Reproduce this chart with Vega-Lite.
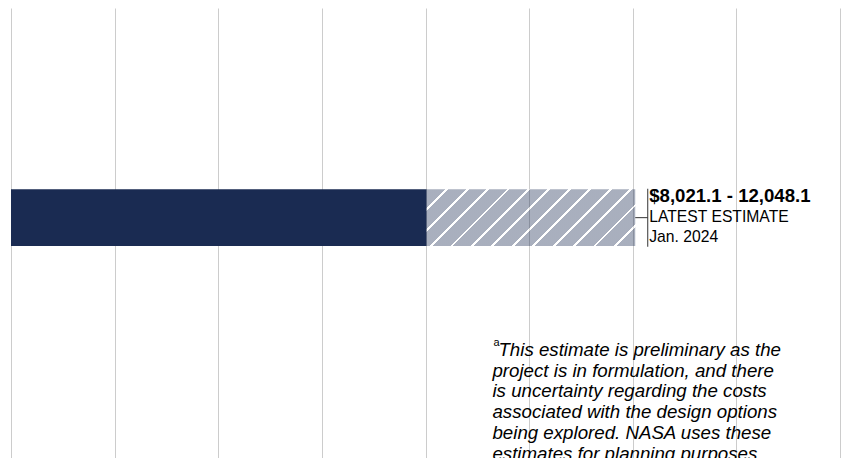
{
  "$schema": "https://vega.github.io/schema/vega-lite/v6.json",
  "width": 829,
  "height": 450,
  "autosize": {"type": "none"},
  "padding": {"left": 11, "top": 8, "right": 2, "bottom": 0},
  "background": "white",
  "config": {"view": {"stroke": null}, "font": "Liberation Sans"},
  "data": {
    "values": [
      {"row": "Latest estimate", "segment": "low", "start": 0, "end": 8021.1},
      {
        "row": "Latest estimate",
        "segment": "range",
        "start": 8021.1,
        "end": 12048.1,
        "label": "$8,021.1 - 12,048.1",
        "kind": "LATEST ESTIMATE",
        "date": "Jan. 2024",
        "sup": "a",
        "note_first": "This estimate is preliminary as the",
        "note_rest": [
          "project is in formulation, and there",
          "is uncertainty regarding the costs",
          "associated with the design options",
          "being explored. NASA uses these",
          "estimates for planning purposes."
        ]
      }
    ]
  },
  "encoding": {
    "y": {
      "field": "row",
      "type": "nominal",
      "axis": null,
      "scale": {"paddingInner": 0.71167, "paddingOuter": 1, "align": 0.461}
    }
  },
  "layer": [
    {
      "transform": [{"filter": "datum.segment === 'low'"}],
      "mark": {"type": "bar", "color": "#1a2b52"},
      "encoding": {
        "x": {
          "field": "start",
          "type": "quantitative",
          "scale": {"domain": [0, 16000], "nice": false, "zero": true},
          "axis": {
            "grid": true,
            "labels": false,
            "ticks": false,
            "domain": false,
            "title": null,
            "values": [0, 2000, 4000, 6000, 8000, 10000, 12000, 14000, 16000],
            "gridColor": "#cccccc",
            "gridWidth": 1
          }
        },
        "x2": {"field": "end"}
      }
    },
    {
      "transform": [{"filter": "datum.segment === 'range'"}],
      "mark": {
        "type": "bar",
        "fillOpacity": 0.375,
        "fill": {
          "gradient": "linear",
          "x1": 0, "y1": 0, "x2": 1.18429, "y2": 0.32182,
          "stops": [
            {"offset": 0, "color": "#1a2b52"},
            {"offset": 0.0716, "color": "#1a2b52"}, {"offset": 0.0716, "color": "#ffffff"}, {"offset": 0.0822, "color": "#ffffff"}, {"offset": 0.0822, "color": "#1a2b52"},
            {"offset": 0.1485, "color": "#1a2b52"}, {"offset": 0.1485, "color": "#ffffff"}, {"offset": 0.1591, "color": "#ffffff"}, {"offset": 0.1591, "color": "#1a2b52"},
            {"offset": 0.2255, "color": "#1a2b52"}, {"offset": 0.2255, "color": "#ffffff"}, {"offset": 0.2361, "color": "#ffffff"}, {"offset": 0.2361, "color": "#1a2b52"},
            {"offset": 0.3024, "color": "#1a2b52"}, {"offset": 0.3024, "color": "#ffffff"}, {"offset": 0.3130, "color": "#ffffff"}, {"offset": 0.3130, "color": "#1a2b52"},
            {"offset": 0.3793, "color": "#1a2b52"}, {"offset": 0.3793, "color": "#ffffff"}, {"offset": 0.3899, "color": "#ffffff"}, {"offset": 0.3899, "color": "#1a2b52"},
            {"offset": 0.4562, "color": "#1a2b52"}, {"offset": 0.4562, "color": "#ffffff"}, {"offset": 0.4668, "color": "#ffffff"}, {"offset": 0.4668, "color": "#1a2b52"},
            {"offset": 0.5332, "color": "#1a2b52"}, {"offset": 0.5332, "color": "#ffffff"}, {"offset": 0.5438, "color": "#ffffff"}, {"offset": 0.5438, "color": "#1a2b52"},
            {"offset": 0.6101, "color": "#1a2b52"}, {"offset": 0.6101, "color": "#ffffff"}, {"offset": 0.6207, "color": "#ffffff"}, {"offset": 0.6207, "color": "#1a2b52"},
            {"offset": 0.6870, "color": "#1a2b52"}, {"offset": 0.6870, "color": "#ffffff"}, {"offset": 0.6976, "color": "#ffffff"}, {"offset": 0.6976, "color": "#1a2b52"},
            {"offset": 0.7639, "color": "#1a2b52"}, {"offset": 0.7639, "color": "#ffffff"}, {"offset": 0.7745, "color": "#ffffff"}, {"offset": 0.7745, "color": "#1a2b52"},
            {"offset": 0.8409, "color": "#1a2b52"}, {"offset": 0.8409, "color": "#ffffff"}, {"offset": 0.8515, "color": "#ffffff"}, {"offset": 0.8515, "color": "#1a2b52"},
            {"offset": 0.9178, "color": "#1a2b52"}, {"offset": 0.9178, "color": "#ffffff"}, {"offset": 0.9284, "color": "#ffffff"}, {"offset": 0.9284, "color": "#1a2b52"},
            {"offset": 1, "color": "#1a2b52"}
          ]
        }
      },
      "encoding": {
        "x": {"field": "start", "type": "quantitative"},
        "x2": {"field": "end"}
      }
    },
    {
      "transform": [{"filter": "datum.segment === 'range'"}],
      "mark": {"type": "rule", "color": "#333333", "strokeWidth": 1, "x2Offset": 12.5},
      "encoding": {
        "x": {"field": "end", "type": "quantitative"},
        "x2": {"field": "end"}
      }
    },
    {
      "transform": [{"filter": "datum.segment === 'range'"}],
      "mark": {"type": "tick", "color": "#333333", "opacity": 1, "thickness": 1, "size": 58, "xOffset": 12.5},
      "encoding": {
        "x": {"field": "end", "type": "quantitative"}
      }
    },
    {
      "transform": [{"filter": "datum.segment === 'range'"}],
      "mark": {"type": "text", "align": "left", "baseline": "alphabetic", "dx": 14, "dy": -15.3, "fontSize": 18.6, "fontWeight": "bold", "color": "#000000"},
      "encoding": {
        "x": {"field": "end", "type": "quantitative"},
        "text": {"field": "label"}
      }
    },
    {
      "transform": [{"filter": "datum.segment === 'range'"}],
      "mark": {"type": "text", "align": "left", "baseline": "alphabetic", "dx": 14, "dy": 4.1, "fontSize": 15.7, "color": "#000000"},
      "encoding": {
        "x": {"field": "end", "type": "quantitative"},
        "text": {"field": "kind"}
      }
    },
    {
      "transform": [{"filter": "datum.segment === 'range'"}],
      "mark": {"type": "text", "align": "left", "baseline": "alphabetic", "dx": 14, "dy": 24.1, "fontSize": 15.7, "color": "#000000"},
      "encoding": {
        "x": {"field": "end", "type": "quantitative"},
        "text": {"field": "date"}
      }
    },
    {
      "transform": [{"filter": "datum.segment === 'range'"}],
      "mark": {"type": "text", "align": "left", "baseline": "alphabetic", "dx": 1, "dy": 128.4, "fontSize": 11, "color": "#000000"},
      "encoding": {
        "x": {"datum": 9292},
        "text": {"field": "sup"}
      }
    },
    {
      "transform": [{"filter": "datum.segment === 'range'"}],
      "mark": {"type": "text", "align": "left", "baseline": "alphabetic", "dx": 6, "dy": 137.9, "fontSize": 18.7, "fontStyle": "italic", "color": "#000000"},
      "encoding": {
        "x": {"datum": 9292},
        "text": {"field": "note_first"}
      }
    },
    {
      "transform": [{"filter": "datum.segment === 'range'"}],
      "mark": {"type": "text", "align": "left", "baseline": "alphabetic", "dx": 0, "dy": 159.0, "fontSize": 18.7, "lineHeight": 20.8, "fontStyle": "italic", "color": "#000000"},
      "encoding": {
        "x": {"datum": 9292},
        "text": {"field": "note_rest"}
      }
    }
  ]
}
